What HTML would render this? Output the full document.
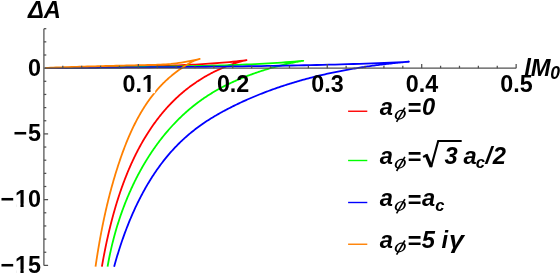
<!DOCTYPE html>
<html><head><meta charset="utf-8"><title>plot</title>
<style>
html,body{margin:0;padding:0;background:#fff;}
body{width:560px;height:273px;overflow:hidden;position:relative;font-family:"Liberation Sans",sans-serif;}
</style></head><body>
<svg width="560" height="273" viewBox="0 0 560 273" style="position:absolute;left:0;top:0;will-change:transform">
<g fill="none" stroke-width="1.8" stroke-linejoin="round" stroke-linecap="butt">
<path d="M45.50,68.12 L48.91,68.07 L52.31,68.01 L55.72,67.95 L59.13,67.89 L62.53,67.84 L65.94,67.78 L69.35,67.72 L72.75,67.67 L76.16,67.61 L79.57,67.55 L82.97,67.49 L86.38,67.44 L89.79,67.38 L93.19,67.32 L96.60,67.26 L100.01,67.20 L103.42,67.14 L106.82,67.08 L110.23,67.02 L113.64,66.96 L117.04,66.89 L120.45,66.83 L123.86,66.76 L127.26,66.70 L130.67,66.63 L134.08,66.56 L137.48,66.48 L140.89,66.41 L144.30,66.33 L147.70,66.25 L151.11,66.16 L154.52,66.07 L157.92,65.98 L161.33,65.88 L164.74,65.77 L168.14,65.67 L171.55,65.55 L174.96,65.43 L178.36,65.30 L181.77,65.16 L185.18,65.02 L188.58,64.87 L191.99,64.70 L195.40,64.53 L198.81,64.35 L202.21,64.15 L205.62,63.95 L209.03,63.72 L212.43,63.49 L215.84,63.24 L219.25,62.97 L222.65,62.69 L226.06,62.39 L229.47,62.07 L232.87,61.73 L236.28,61.37 L239.69,60.99 L243.09,60.58 L246.50,60.15 L246.50,60.15 L245.62,60.34 L244.75,60.53 L243.88,60.74 L243.01,60.95 L242.14,61.16 L241.28,61.39 L240.42,61.62 L239.56,61.85 L238.70,62.10 L237.84,62.35 L236.98,62.61 L236.13,62.87 L235.28,63.14 L234.42,63.42 L233.58,63.70 L232.73,63.99 L231.88,64.28 L231.03,64.58 L230.19,64.88 L229.35,65.19 L228.50,65.51 L227.66,65.83 L226.82,66.16 L225.98,66.49 L225.15,66.83 L224.31,67.17 L223.47,67.52 L222.64,67.87 L221.81,68.23 L220.98,68.59 L220.15,68.96 L219.32,69.33 L218.49,69.70 L217.67,70.09 L216.84,70.47 L216.02,70.87 L215.21,71.26 L214.39,71.66 L213.57,72.07 L212.76,72.48 L211.95,72.90 L211.14,73.32 L210.34,73.74 L209.54,74.17 L208.74,74.60 L207.94,75.04 L207.14,75.48 L206.35,75.93 L205.56,76.38 L204.77,76.84 L203.99,77.30 L203.21,77.76 L202.43,78.23 L201.66,78.70 L200.88,79.18 L200.12,79.66 L199.35,80.14 L198.59,80.63 L197.83,81.13 L197.08,81.62 L196.33,82.13 L195.58,82.63 L194.84,83.14 L194.10,83.65 L193.36,84.17 L192.63,84.69 L191.90,85.21 L191.18,85.74 L190.46,86.27 L189.74,86.81 L189.03,87.35 L188.32,87.89 L187.61,88.44 L186.91,88.99 L186.21,89.54 L185.51,90.10 L184.82,90.66 L184.14,91.23 L183.45,91.80 L182.77,92.37 L182.10,92.95 L181.42,93.52 L180.75,94.11 L180.09,94.69 L179.42,95.28 L178.77,95.88 L178.11,96.47 L177.46,97.07 L176.81,97.68 L176.17,98.28 L175.53,98.89 L174.89,99.51 L174.26,100.12 L173.62,100.74 L173.00,101.36 L172.37,101.99 L171.75,102.62 L171.14,103.25 L170.52,103.89 L169.91,104.53 L169.31,105.17 L168.70,105.81 L168.11,106.46 L167.51,107.11 L166.92,107.77 L166.33,108.42 L165.74,109.08 L165.16,109.75 L164.58,110.41 L164.00,111.08 L163.43,111.75 L162.86,112.43 L162.29,113.11 L161.73,113.79 L161.17,114.47 L160.61,115.16 L160.06,115.85 L159.51,116.54 L158.96,117.23 L158.42,117.93 L157.88,118.63 L157.34,119.33 L156.81,120.04 L156.27,120.75 L155.75,121.46 L155.22,122.17 L154.70,122.89 L154.18,123.60 L153.67,124.32 L153.15,125.05 L152.64,125.77 L152.14,126.50 L151.63,127.23 L151.13,127.97 L150.64,128.70 L150.14,129.44 L149.65,130.18 L149.16,130.92 L148.68,131.67 L148.20,132.41 L147.72,133.16 L147.24,133.92 L146.77,134.67 L146.30,135.43 L145.83,136.19 L145.36,136.95 L144.90,137.71 L144.44,138.47 L143.99,139.24 L143.53,140.01 L143.08,140.78 L142.64,141.56 L142.19,142.33 L141.75,143.11 L141.31,143.89 L140.88,144.67 L140.44,145.45 L140.01,146.24 L139.58,147.03 L139.16,147.82 L138.74,148.61 L138.32,149.40 L137.90,150.20 L137.49,150.99 L137.08,151.79 L136.67,152.59 L136.26,153.39 L135.86,154.20 L135.46,155.00 L135.06,155.81 L134.66,156.62 L134.27,157.43 L133.88,158.24 L133.49,159.06 L133.11,159.87 L132.72,160.69 L132.35,161.51 L131.97,162.33 L131.59,163.15 L131.22,163.97 L130.85,164.80 L130.48,165.62 L130.12,166.45 L129.76,167.28 L129.40,168.11 L129.04,168.94 L128.69,169.77 L128.33,170.61 L127.98,171.44 L127.64,172.28 L127.29,173.12 L126.95,173.96 L126.61,174.80 L126.27,175.64 L125.94,176.48 L125.60,177.32 L125.27,178.17 L124.94,179.02 L124.62,179.86 L124.29,180.71 L123.97,181.56 L123.65,182.41 L123.34,183.26 L123.02,184.12 L122.71,184.97 L122.40,185.82 L122.09,186.68 L121.79,187.54 L121.48,188.39 L121.18,189.25 L120.88,190.11 L120.58,190.97 L120.29,191.83 L120.00,192.69 L119.71,193.56 L119.42,194.42 L119.13,195.28 L118.85,196.15 L118.57,197.01 L118.29,197.88 L118.01,198.74 L117.73,199.61 L117.46,200.48 L117.19,201.35 L116.92,202.21 L116.65,203.08 L116.39,203.95 L116.12,204.82 L115.86,205.69 L115.60,206.57 L115.35,207.44 L115.09,208.31 L114.84,209.18 L114.59,210.06 L114.34,210.93 L114.09,211.80 L113.84,212.68 L113.60,213.55 L113.36,214.42 L113.12,215.30 L112.88,216.17 L112.64,217.05 L112.41,217.92 L112.18,218.80 L111.95,219.68 L111.72,220.55 L111.49,221.43 L111.26,222.30 L111.04,223.18 L110.82,224.06 L110.60,224.93 L110.38,225.81 L110.16,226.68 L109.95,227.56 L109.74,228.44 L109.52,229.31 L109.31,230.19 L109.11,231.06 L108.90,231.94 L108.69,232.82 L108.49,233.69 L108.29,234.57 L108.09,235.44 L107.89,236.32 L107.70,237.19 L107.50,238.06 L107.31,238.94 L107.12,239.81 L106.93,240.68 L106.74,241.56 L106.55,242.43 L106.36,243.30 L106.18,244.17 L106.00,245.04 L105.82,245.91 L105.64,246.78 L105.46,247.65 L105.28,248.52 L105.11,249.39 L104.93,250.26 L104.76,251.13 L104.59,251.99 L104.42,252.86 L104.25,253.73 L104.08,254.59 L103.92,255.46 L103.75,256.32 L103.59,257.18 L103.43,258.04 L103.27,258.90 L103.11,259.76 L102.95,260.62 L102.80,261.48 L102.64,262.34 L102.49,263.20 L102.34,264.05 L102.19,264.91 L102.04,265.76 L101.89,266.62" stroke="#ff0000"/>
<path d="M45.50,68.13 L49.87,68.08 L54.24,68.03 L58.61,67.97 L62.98,67.92 L67.35,67.87 L71.72,67.82 L76.09,67.77 L80.46,67.71 L84.83,67.66 L89.19,67.61 L93.56,67.56 L97.93,67.50 L102.30,67.45 L106.67,67.40 L111.04,67.34 L115.41,67.29 L119.78,67.23 L124.15,67.18 L128.52,67.12 L132.89,67.07 L137.26,67.01 L141.63,66.95 L146.00,66.89 L150.37,66.83 L154.74,66.76 L159.11,66.70 L163.48,66.63 L167.85,66.56 L172.22,66.49 L176.58,66.42 L180.95,66.34 L185.32,66.26 L189.69,66.17 L194.06,66.08 L198.43,65.98 L202.80,65.88 L207.17,65.78 L211.54,65.67 L215.91,65.55 L220.28,65.42 L224.65,65.29 L229.02,65.15 L233.39,65.00 L237.76,64.84 L242.13,64.67 L246.50,64.49 L250.87,64.30 L255.24,64.10 L259.61,63.88 L263.97,63.65 L268.34,63.41 L272.71,63.15 L277.08,62.87 L281.45,62.57 L285.82,62.26 L290.19,61.93 L294.56,61.57 L298.93,61.20 L303.30,60.80 L303.30,60.80 L302.29,60.95 L301.27,61.11 L300.27,61.28 L299.26,61.45 L298.25,61.62 L297.24,61.80 L296.24,61.99 L295.23,62.18 L294.23,62.37 L293.23,62.57 L292.23,62.77 L291.23,62.97 L290.23,63.18 L289.23,63.40 L288.24,63.62 L287.24,63.84 L286.24,64.07 L285.25,64.30 L284.26,64.53 L283.26,64.77 L282.27,65.02 L281.28,65.26 L280.29,65.51 L279.30,65.77 L278.31,66.02 L277.32,66.29 L276.33,66.55 L275.34,66.82 L274.35,67.09 L273.37,67.37 L272.38,67.65 L271.39,67.93 L270.40,68.21 L269.42,68.50 L268.43,68.79 L267.45,69.09 L266.46,69.39 L265.48,69.69 L264.49,69.99 L263.51,70.30 L262.53,70.62 L261.54,70.93 L260.56,71.25 L259.58,71.57 L258.60,71.90 L257.62,72.23 L256.64,72.56 L255.67,72.90 L254.69,73.23 L253.71,73.58 L252.74,73.93 L251.77,74.28 L250.80,74.63 L249.82,74.99 L248.86,75.35 L247.89,75.71 L246.92,76.08 L245.96,76.46 L244.99,76.83 L244.03,77.21 L243.07,77.60 L242.11,77.99 L241.16,78.38 L240.20,78.77 L239.25,79.17 L238.30,79.58 L237.35,79.99 L236.40,80.40 L235.46,80.81 L234.51,81.23 L233.57,81.66 L232.63,82.09 L231.70,82.52 L230.76,82.95 L229.83,83.39 L228.90,83.84 L227.97,84.29 L227.05,84.74 L226.13,85.20 L225.21,85.66 L224.29,86.13 L223.38,86.60 L222.47,87.07 L221.56,87.55 L220.65,88.03 L219.75,88.52 L218.85,89.01 L217.96,89.51 L217.06,90.01 L216.17,90.52 L215.29,91.03 L214.40,91.54 L213.52,92.06 L212.64,92.59 L211.77,93.12 L210.90,93.65 L210.03,94.19 L209.17,94.73 L208.31,95.28 L207.45,95.83 L206.60,96.39 L205.75,96.95 L204.91,97.51 L204.07,98.09 L203.23,98.66 L202.40,99.24 L201.57,99.83 L200.74,100.42 L199.92,101.01 L199.10,101.61 L198.28,102.21 L197.47,102.82 L196.66,103.43 L195.86,104.05 L195.06,104.67 L194.26,105.30 L193.47,105.93 L192.68,106.56 L191.89,107.20 L191.11,107.85 L190.33,108.49 L189.56,109.14 L188.79,109.80 L188.02,110.46 L187.26,111.12 L186.50,111.79 L185.74,112.47 L184.99,113.14 L184.24,113.82 L183.49,114.51 L182.75,115.20 L182.01,115.89 L181.28,116.59 L180.55,117.29 L179.82,117.99 L179.10,118.70 L178.38,119.41 L177.66,120.13 L176.95,120.85 L176.24,121.57 L175.54,122.30 L174.83,123.03 L174.14,123.77 L173.44,124.50 L172.75,125.25 L172.06,125.99 L171.38,126.74 L170.70,127.50 L170.02,128.25 L169.35,129.01 L168.68,129.78 L168.01,130.54 L167.35,131.31 L166.69,132.09 L166.04,132.86 L165.39,133.64 L164.74,134.43 L164.09,135.22 L163.45,136.01 L162.82,136.80 L162.18,137.60 L161.55,138.40 L160.93,139.20 L160.30,140.01 L159.68,140.82 L159.07,141.63 L158.46,142.44 L157.85,143.26 L157.24,144.09 L156.64,144.91 L156.04,145.74 L155.45,146.57 L154.86,147.40 L154.27,148.24 L153.68,149.08 L153.10,149.92 L152.53,150.77 L151.95,151.61 L151.38,152.46 L150.82,153.32 L150.25,154.17 L149.69,155.03 L149.14,155.89 L148.58,156.76 L148.04,157.62 L147.49,158.49 L146.95,159.36 L146.41,160.24 L145.87,161.11 L145.34,161.99 L144.81,162.87 L144.29,163.76 L143.77,164.64 L143.25,165.53 L142.74,166.42 L142.22,167.32 L141.72,168.21 L141.21,169.11 L140.71,170.01 L140.22,170.91 L139.72,171.82 L139.23,172.72 L138.74,173.63 L138.26,174.54 L137.78,175.45 L137.31,176.37 L136.83,177.29 L136.36,178.20 L135.90,179.13 L135.43,180.05 L134.97,180.97 L134.52,181.90 L134.07,182.83 L133.62,183.76 L133.17,184.69 L132.73,185.62 L132.29,186.56 L131.85,187.50 L131.42,188.43 L130.99,189.37 L130.57,190.32 L130.14,191.26 L129.73,192.21 L129.31,193.15 L128.90,194.10 L128.49,195.05 L128.09,196.00 L127.68,196.96 L127.28,197.91 L126.89,198.87 L126.50,199.82 L126.11,200.78 L125.72,201.74 L125.34,202.70 L124.96,203.66 L124.59,204.63 L124.22,205.59 L123.85,206.56 L123.48,207.53 L123.12,208.49 L122.76,209.46 L122.41,210.43 L122.06,211.41 L121.71,212.38 L121.36,213.35 L121.02,214.33 L120.68,215.30 L120.35,216.28 L120.02,217.26 L119.69,218.23 L119.36,219.21 L119.04,220.19 L118.72,221.17 L118.41,222.16 L118.09,223.14 L117.79,224.12 L117.48,225.10 L117.18,226.09 L116.88,227.07 L116.58,228.06 L116.29,229.05 L116.00,230.03 L115.72,231.02 L115.43,232.01 L115.15,233.00 L114.88,233.99 L114.60,234.97 L114.33,235.96 L114.07,236.95 L113.80,237.94 L113.54,238.93 L113.29,239.93 L113.03,240.92 L112.78,241.91 L112.54,242.90 L112.29,243.89 L112.05,244.88 L111.82,245.88 L111.58,246.87 L111.35,247.86 L111.12,248.85 L110.90,249.85 L110.68,250.84 L110.46,251.83 L110.24,252.82 L110.03,253.82 L109.82,254.81 L109.62,255.80 L109.42,256.79 L109.22,257.78 L109.02,258.78 L108.83,259.77 L108.64,260.76 L108.45,261.75 L108.27,262.74 L108.09,263.73 L107.91,264.72 L107.74,265.71 L107.57,266.70" stroke="#00ff00"/>
<path d="M45.50,68.14 L51.66,68.09 L57.82,68.04 L63.98,67.98 L70.14,67.93 L76.30,67.88 L82.46,67.83 L88.62,67.78 L94.77,67.73 L100.93,67.68 L107.09,67.63 L113.25,67.58 L119.41,67.53 L125.57,67.47 L131.73,67.42 L137.89,67.37 L144.05,67.32 L150.21,67.26 L156.37,67.21 L162.53,67.15 L168.69,67.10 L174.85,67.04 L181.01,66.98 L187.16,66.92 L193.32,66.86 L199.48,66.80 L205.64,66.73 L211.80,66.67 L217.96,66.60 L224.12,66.53 L230.28,66.45 L236.44,66.38 L242.60,66.30 L248.76,66.21 L254.92,66.13 L261.08,66.04 L267.24,65.94 L273.39,65.84 L279.55,65.74 L285.71,65.63 L291.87,65.51 L298.03,65.39 L304.19,65.27 L310.35,65.14 L316.51,65.00 L322.67,64.85 L328.83,64.69 L334.99,64.53 L341.15,64.36 L347.31,64.18 L353.47,63.99 L359.63,63.78 L365.78,63.57 L371.94,63.35 L378.10,63.12 L384.26,62.87 L390.42,62.61 L396.58,62.34 L402.74,62.05 L408.90,61.75 L408.90,61.75 L407.60,61.86 L406.31,61.97 L405.02,62.08 L403.72,62.20 L402.43,62.32 L401.13,62.44 L399.84,62.57 L398.54,62.69 L397.25,62.82 L395.95,62.95 L394.66,63.08 L393.36,63.22 L392.07,63.36 L390.77,63.50 L389.48,63.64 L388.18,63.79 L386.89,63.93 L385.59,64.08 L384.30,64.24 L383.01,64.39 L381.71,64.55 L380.42,64.71 L379.12,64.88 L377.83,65.04 L376.54,65.21 L375.25,65.38 L373.95,65.55 L372.66,65.73 L371.37,65.91 L370.08,66.09 L368.78,66.28 L367.49,66.46 L366.20,66.65 L364.91,66.84 L363.62,67.04 L362.33,67.24 L361.04,67.44 L359.75,67.64 L358.47,67.85 L357.18,68.06 L355.89,68.27 L354.60,68.49 L353.32,68.71 L352.03,68.93 L350.74,69.15 L349.46,69.38 L348.17,69.61 L346.89,69.84 L345.61,70.08 L344.32,70.31 L343.04,70.56 L341.76,70.80 L340.48,71.05 L339.20,71.30 L337.92,71.56 L336.64,71.81 L335.36,72.07 L334.08,72.34 L332.81,72.60 L331.53,72.87 L330.26,73.15 L328.98,73.42 L327.71,73.70 L326.44,73.99 L325.16,74.27 L323.89,74.56 L322.62,74.85 L321.35,75.15 L320.08,75.45 L318.82,75.75 L317.55,76.06 L316.28,76.37 L315.02,76.68 L313.75,76.99 L312.49,77.31 L311.23,77.64 L309.97,77.96 L308.71,78.29 L307.45,78.63 L306.19,78.96 L304.94,79.30 L303.68,79.65 L302.42,79.99 L301.17,80.35 L299.92,80.70 L298.67,81.06 L297.42,81.42 L296.17,81.79 L294.92,82.15 L293.67,82.53 L292.43,82.90 L291.18,83.28 L289.94,83.67 L288.70,84.05 L287.46,84.45 L286.22,84.84 L284.98,85.24 L283.75,85.64 L282.51,86.05 L281.28,86.46 L280.04,86.87 L278.81,87.29 L277.58,87.71 L276.36,88.14 L275.13,88.57 L273.90,89.00 L272.68,89.44 L271.46,89.88 L270.24,90.32 L269.02,90.77 L267.80,91.23 L266.58,91.68 L265.37,92.14 L264.15,92.61 L262.94,93.08 L261.73,93.55 L260.52,94.03 L259.32,94.51 L258.11,95.00 L256.91,95.49 L255.71,95.98 L254.51,96.48 L253.31,96.98 L252.11,97.49 L250.91,98.00 L249.72,98.51 L248.53,99.03 L247.34,99.55 L246.15,100.08 L244.96,100.61 L243.78,101.15 L242.60,101.69 L241.42,102.24 L240.24,102.78 L239.06,103.34 L237.89,103.90 L236.71,104.46 L235.54,105.03 L234.37,105.60 L233.20,106.17 L232.04,106.75 L230.87,107.34 L229.71,107.93 L228.56,108.52 L227.40,109.12 L226.25,109.73 L225.09,110.34 L223.95,110.95 L222.80,111.57 L221.66,112.20 L220.52,112.83 L219.39,113.46 L218.26,114.11 L217.13,114.75 L216.00,115.41 L214.88,116.07 L213.77,116.73 L212.65,117.41 L211.55,118.08 L210.44,118.77 L209.34,119.46 L208.25,120.16 L207.16,120.86 L206.07,121.57 L204.99,122.29 L203.92,123.02 L202.85,123.75 L201.78,124.49 L200.72,125.23 L199.67,125.99 L198.62,126.75 L197.58,127.52 L196.54,128.29 L195.51,129.08 L194.49,129.87 L193.47,130.67 L192.45,131.47 L191.45,132.28 L190.45,133.10 L189.45,133.93 L188.46,134.77 L187.48,135.61 L186.51,136.46 L185.54,137.31 L184.58,138.18 L183.62,139.05 L182.67,139.92 L181.73,140.81 L180.79,141.70 L179.86,142.60 L178.94,143.51 L178.03,144.42 L177.12,145.34 L176.22,146.26 L175.32,147.20 L174.43,148.14 L173.55,149.08 L172.68,150.04 L171.81,151.00 L170.95,151.96 L170.09,152.93 L169.25,153.91 L168.41,154.90 L167.57,155.89 L166.74,156.88 L165.92,157.89 L165.11,158.90 L164.30,159.91 L163.49,160.93 L162.70,161.96 L161.91,162.99 L161.13,164.02 L160.35,165.06 L159.58,166.11 L158.81,167.16 L158.06,168.22 L157.30,169.29 L156.56,170.35 L155.82,171.43 L155.09,172.50 L154.36,173.59 L153.64,174.67 L152.92,175.77 L152.21,176.86 L151.51,177.96 L150.81,179.07 L150.12,180.18 L149.44,181.29 L148.76,182.41 L148.08,183.53 L147.41,184.66 L146.75,185.79 L146.10,186.92 L145.44,188.06 L144.80,189.20 L144.16,190.35 L143.53,191.50 L142.90,192.65 L142.28,193.81 L141.66,194.97 L141.05,196.13 L140.44,197.30 L139.84,198.47 L139.25,199.64 L138.66,200.81 L138.07,201.99 L137.50,203.17 L136.92,204.36 L136.35,205.54 L135.79,206.73 L135.23,207.93 L134.68,209.12 L134.14,210.32 L133.59,211.52 L133.06,212.72 L132.53,213.92 L132.00,215.13 L131.48,216.33 L130.96,217.54 L130.45,218.75 L129.94,219.97 L129.44,221.18 L128.95,222.40 L128.45,223.62 L127.97,224.84 L127.49,226.06 L127.01,227.28 L126.54,228.51 L126.07,229.73 L125.61,230.96 L125.15,232.18 L124.69,233.41 L124.25,234.64 L123.80,235.87 L123.36,237.10 L122.93,238.33 L122.50,239.57 L122.07,240.80 L121.65,242.03 L121.23,243.26 L120.82,244.50 L120.41,245.73 L120.01,246.97 L119.61,248.20 L119.21,249.44 L118.82,250.67 L118.44,251.90 L118.06,253.14 L117.68,254.37 L117.30,255.60 L116.93,256.84 L116.57,258.07 L116.21,259.30 L115.85,260.53 L115.50,261.76 L115.15,262.99 L114.80,264.22 L114.46,265.45 L114.12,266.67" stroke="#0000ff"/>
<path d="M45.50,67.89 L48.11,67.79 L50.73,67.70 L53.34,67.60 L55.95,67.51 L58.57,67.41 L61.18,67.32 L63.79,67.24 L66.41,67.15 L69.02,67.06 L71.64,66.98 L74.25,66.90 L76.86,66.82 L79.48,66.74 L82.09,66.66 L84.70,66.58 L87.32,66.50 L89.93,66.43 L92.54,66.35 L95.16,66.28 L97.77,66.21 L100.38,66.13 L103.00,66.06 L105.61,66.00 L108.23,65.93 L110.84,65.86 L113.45,65.79 L116.07,65.73 L118.68,65.66 L121.29,65.60 L123.91,65.54 L126.52,65.47 L129.13,65.41 L131.75,65.35 L134.36,65.29 L136.97,65.24 L139.59,65.18 L142.20,65.13 L144.82,65.07 L147.43,65.01 L150.04,64.94 L152.66,64.87 L155.27,64.80 L157.88,64.72 L160.50,64.62 L163.11,64.48 L165.72,64.31 L168.34,64.12 L170.95,63.89 L173.56,63.60 L176.18,63.27 L178.79,62.91 L181.41,62.52 L184.02,62.10 L186.63,61.65 L189.25,61.16 L191.86,60.65 L194.47,60.10 L197.09,59.52 L199.70,58.90 L199.70,58.90 L198.92,59.13 L198.14,59.36 L197.36,59.59 L196.58,59.83 L195.80,60.08 L195.04,60.35 L194.29,60.65 L193.55,60.97 L192.84,61.32 L192.13,61.70 L191.43,62.08 L190.73,62.47 L190.04,62.87 L189.35,63.27 L188.65,63.68 L187.96,64.09 L187.27,64.51 L186.59,64.93 L185.90,65.35 L185.22,65.78 L184.53,66.22 L183.85,66.66 L183.17,67.10 L182.50,67.55 L181.82,68.00 L181.15,68.46 L180.48,68.92 L179.82,69.39 L179.15,69.86 L178.49,70.33 L177.83,70.81 L177.17,71.29 L176.52,71.78 L175.87,72.27 L175.22,72.76 L174.58,73.26 L173.94,73.77 L173.30,74.27 L172.66,74.79 L172.03,75.30 L171.40,75.82 L170.78,76.34 L170.16,76.87 L169.54,77.40 L168.93,77.93 L168.32,78.47 L167.72,79.01 L167.12,79.56 L166.52,80.11 L165.93,80.66 L165.34,81.22 L164.75,81.78 L164.17,82.34 L163.60,82.91 L163.03,83.48 L162.46,84.06 L161.89,84.63 L161.33,85.22 L160.78,85.80 L160.22,86.39 L159.68,86.98 L159.13,87.57 L158.59,88.17 L158.05,88.77 L157.52,89.38 L156.99,89.99 L156.46,90.60 L155.94,91.21 L155.42,91.83 L154.91,92.45 L154.40,93.07 L153.89,93.70 L153.39,94.33 L152.89,94.96 L152.39,95.59 L151.90,96.23 L151.41,96.87 L150.93,97.51 L150.44,98.16 L149.96,98.81 L149.49,99.46 L149.02,100.12 L148.55,100.77 L148.08,101.43 L147.62,102.10 L147.16,102.76 L146.71,103.43 L146.26,104.10 L145.81,104.77 L145.36,105.45 L144.92,106.12 L144.48,106.80 L144.05,107.48 L143.61,108.17 L143.19,108.86 L142.76,109.55 L142.34,110.24 L141.92,110.93 L141.50,111.63 L141.09,112.32 L140.68,113.02 L140.27,113.73 L139.86,114.43 L139.46,115.14 L139.06,115.85 L138.67,116.56 L138.27,117.27 L137.88,117.98 L137.50,118.70 L137.11,119.42 L136.73,120.14 L136.35,120.86 L135.97,121.58 L135.60,122.31 L135.23,123.03 L134.86,123.76 L134.50,124.49 L134.13,125.23 L133.77,125.96 L133.42,126.69 L133.06,127.43 L132.71,128.17 L132.36,128.91 L132.01,129.65 L131.67,130.39 L131.32,131.14 L130.98,131.88 L130.65,132.63 L130.31,133.38 L129.98,134.12 L129.65,134.88 L129.32,135.63 L128.99,136.38 L128.67,137.13 L128.35,137.89 L128.03,138.65 L127.71,139.40 L127.40,140.16 L127.09,140.92 L126.78,141.68 L126.47,142.44 L126.16,143.20 L125.86,143.97 L125.56,144.73 L125.26,145.50 L124.96,146.26 L124.67,147.03 L124.37,147.79 L124.08,148.56 L123.79,149.33 L123.50,150.10 L123.22,150.87 L122.93,151.64 L122.65,152.41 L122.37,153.18 L122.09,153.95 L121.82,154.72 L121.54,155.50 L121.27,156.27 L121.00,157.04 L120.73,157.82 L120.46,158.59 L120.19,159.37 L119.93,160.14 L119.67,160.92 L119.41,161.69 L119.15,162.47 L118.89,163.24 L118.63,164.02 L118.37,164.79 L118.12,165.57 L117.87,166.34 L117.62,167.12 L117.37,167.90 L117.12,168.67 L116.87,169.45 L116.63,170.23 L116.39,171.00 L116.14,171.78 L115.90,172.55 L115.67,173.33 L115.43,174.11 L115.19,174.88 L114.96,175.66 L114.72,176.44 L114.49,177.22 L114.26,177.99 L114.03,178.77 L113.80,179.55 L113.58,180.33 L113.35,181.10 L113.13,181.88 L112.90,182.66 L112.68,183.44 L112.46,184.22 L112.25,185.00 L112.03,185.78 L111.81,186.55 L111.60,187.33 L111.38,188.11 L111.17,188.89 L110.96,189.67 L110.75,190.45 L110.54,191.23 L110.34,192.01 L110.13,192.79 L109.93,193.57 L109.72,194.35 L109.52,195.14 L109.32,195.92 L109.12,196.70 L108.92,197.48 L108.73,198.26 L108.53,199.04 L108.34,199.83 L108.14,200.61 L107.95,201.39 L107.76,202.18 L107.57,202.96 L107.38,203.74 L107.19,204.53 L107.01,205.31 L106.82,206.10 L106.64,206.88 L106.45,207.67 L106.27,208.45 L106.09,209.24 L105.91,210.02 L105.73,210.81 L105.55,211.59 L105.38,212.38 L105.20,213.17 L105.03,213.95 L104.85,214.74 L104.68,215.53 L104.51,216.32 L104.34,217.11 L104.17,217.89 L104.00,218.68 L103.84,219.47 L103.67,220.26 L103.50,221.05 L103.34,221.84 L103.18,222.63 L103.01,223.42 L102.85,224.22 L102.69,225.01 L102.53,225.80 L102.37,226.59 L102.22,227.38 L102.06,228.18 L101.90,228.97 L101.75,229.76 L101.60,230.56 L101.44,231.35 L101.29,232.15 L101.14,232.94 L100.99,233.74 L100.84,234.53 L100.69,235.33 L100.54,236.13 L100.40,236.92 L100.25,237.72 L100.11,238.52 L99.96,239.32 L99.82,240.12 L99.68,240.92 L99.53,241.71 L99.39,242.51 L99.25,243.32 L99.11,244.12 L98.98,244.92 L98.84,245.72 L98.70,246.52 L98.56,247.32 L98.43,248.13 L98.29,248.93 L98.16,249.73 L98.03,250.54 L97.89,251.34 L97.76,252.15 L97.63,252.95 L97.50,253.76 L97.37,254.57 L97.24,255.37 L97.11,256.18 L96.99,256.99 L96.86,257.80 L96.73,258.61 L96.61,259.42 L96.48,260.23 L96.36,261.04 L96.23,261.85 L96.11,262.66 L95.99,263.47 L95.87,264.28 L95.75,265.10 L95.63,265.91 L95.51,266.72" stroke="#ff8000"/>
</g>
<g stroke="#505050" stroke-width="1.25" fill="none" shape-rendering="auto">
<line x1="43.9" y1="28.70" x2="43.9" y2="265.40"/>
<line x1="43.9" y1="68.15" x2="516.15" y2="68.15"/>
<line x1="62.79" y1="68.15" x2="62.79" y2="65.75"/>
<line x1="81.68" y1="68.15" x2="81.68" y2="65.75"/>
<line x1="100.57" y1="68.15" x2="100.57" y2="65.75"/>
<line x1="119.46" y1="68.15" x2="119.46" y2="65.75"/>
<line x1="138.35" y1="68.15" x2="138.35" y2="63.95"/>
<line x1="157.24" y1="68.15" x2="157.24" y2="65.75"/>
<line x1="176.13" y1="68.15" x2="176.13" y2="65.75"/>
<line x1="195.02" y1="68.15" x2="195.02" y2="65.75"/>
<line x1="213.91" y1="68.15" x2="213.91" y2="65.75"/>
<line x1="232.80" y1="68.15" x2="232.80" y2="63.95"/>
<line x1="251.69" y1="68.15" x2="251.69" y2="65.75"/>
<line x1="270.58" y1="68.15" x2="270.58" y2="65.75"/>
<line x1="289.47" y1="68.15" x2="289.47" y2="65.75"/>
<line x1="308.36" y1="68.15" x2="308.36" y2="65.75"/>
<line x1="327.25" y1="68.15" x2="327.25" y2="63.95"/>
<line x1="346.14" y1="68.15" x2="346.14" y2="65.75"/>
<line x1="365.03" y1="68.15" x2="365.03" y2="65.75"/>
<line x1="383.92" y1="68.15" x2="383.92" y2="65.75"/>
<line x1="402.81" y1="68.15" x2="402.81" y2="65.75"/>
<line x1="421.70" y1="68.15" x2="421.70" y2="63.95"/>
<line x1="440.59" y1="68.15" x2="440.59" y2="65.75"/>
<line x1="459.48" y1="68.15" x2="459.48" y2="65.75"/>
<line x1="478.37" y1="68.15" x2="478.37" y2="65.75"/>
<line x1="497.26" y1="68.15" x2="497.26" y2="65.75"/>
<line x1="516.15" y1="68.15" x2="516.15" y2="63.95"/>
<line x1="43.9" y1="265.40" x2="48.10" y2="265.40"/>
<line x1="43.9" y1="252.25" x2="46.30" y2="252.25"/>
<line x1="43.9" y1="239.10" x2="46.30" y2="239.10"/>
<line x1="43.9" y1="225.95" x2="46.30" y2="225.95"/>
<line x1="43.9" y1="212.80" x2="46.30" y2="212.80"/>
<line x1="43.9" y1="199.65" x2="48.10" y2="199.65"/>
<line x1="43.9" y1="186.50" x2="46.30" y2="186.50"/>
<line x1="43.9" y1="173.35" x2="46.30" y2="173.35"/>
<line x1="43.9" y1="160.20" x2="46.30" y2="160.20"/>
<line x1="43.9" y1="147.05" x2="46.30" y2="147.05"/>
<line x1="43.9" y1="133.90" x2="48.10" y2="133.90"/>
<line x1="43.9" y1="120.75" x2="46.30" y2="120.75"/>
<line x1="43.9" y1="107.60" x2="46.30" y2="107.60"/>
<line x1="43.9" y1="94.45" x2="46.30" y2="94.45"/>
<line x1="43.9" y1="81.30" x2="46.30" y2="81.30"/>
<line x1="43.9" y1="55.00" x2="46.30" y2="55.00"/>
<line x1="43.9" y1="41.85" x2="46.30" y2="41.85"/>
<line x1="43.9" y1="28.70" x2="46.30" y2="28.70"/>
</g>
<g stroke-width="1.4" fill="none">
<line x1="348.1" y1="111.25" x2="367.3" y2="111.25" stroke="#ff0000"/>
<line x1="348.1" y1="160.5" x2="367.3" y2="160.5" stroke="#00ff00"/>
<line x1="348.1" y1="202.5" x2="367.3" y2="202.5" stroke="#0000ff"/>
<line x1="348.1" y1="244.25" x2="367.3" y2="244.25" stroke="#ff8000"/>
</g>
<g font-family="'Liberation Sans', sans-serif" font-weight="bold" font-size="23.7" fill="#000">
<text x="138.65" y="92.1" text-anchor="middle" font-size="23.3">0.1</text>
<text x="233.10" y="92.1" text-anchor="middle" font-size="23.3">0.2</text>
<text x="327.55" y="92.1" text-anchor="middle" font-size="23.3">0.3</text>
<text x="422.00" y="92.1" text-anchor="middle" font-size="23.3">0.4</text>
<text x="516.45" y="92.1" text-anchor="middle" font-size="23.3">0.5</text>
<text x="41.0" y="75.55" text-anchor="end" font-size="23.4">0</text>
<text x="41.0" y="141.30" text-anchor="end" font-size="23.4">5</text>
<text x="27.09" y="141.30" text-anchor="end" font-size="23.4">−</text>
<text x="41.0" y="207.05" text-anchor="end" font-size="23.4">10</text>
<text x="14.07" y="207.05" text-anchor="end" font-size="23.4">−</text>
<text x="41.0" y="272.80" text-anchor="end" font-size="23.4">15</text>
<text x="14.07" y="272.80" text-anchor="end" font-size="23.4">−</text>
<rect x="143.02" y="88.80" width="4.30" height="4.37" fill="#fff"/><rect x="150.52" y="88.80" width="4.62" height="4.37" fill="#fff"/>
<rect x="16.11" y="203.74" width="4.32" height="4.38" fill="#fff"/><rect x="23.64" y="203.74" width="4.64" height="4.38" fill="#fff"/>
<rect x="16.11" y="269.49" width="4.32" height="4.38" fill="#fff"/><rect x="23.64" y="269.49" width="4.64" height="4.38" fill="#fff"/>
<text x="44.4" y="17.9" text-anchor="middle" font-style="italic">ΔA</text>
<text x="524.2" y="75.5" font-style="italic">lM<tspan font-size="17.6" dy="3.5" dx="-0.4">0</tspan></text>
<text x="379.8" y="114.7" font-style="italic">a</text>
<g transform="translate(400.3,114.7)"><path transform="skewX(-18)" fill="#000" fill-rule="evenodd" d="M-5.35,0 A5.35,4.95 0 1 0 5.35,0 A5.35,4.95 0 1 0 -5.35,0 Z M-3.45,0 A3.45,3.8 0 1 0 3.45,0 A3.45,3.8 0 1 0 -3.45,0 Z"/><line x1="4.6" y1="-7.0" x2="-3.7" y2="7.2" stroke="#000" stroke-width="1.6"/></g>
<text x="407.2" y="116.3" font-style="italic">=</text>
<text x="379.8" y="163.8" font-style="italic">a</text>
<g transform="translate(400.3,163.8)"><path transform="skewX(-18)" fill="#000" fill-rule="evenodd" d="M-5.35,0 A5.35,4.95 0 1 0 5.35,0 A5.35,4.95 0 1 0 -5.35,0 Z M-3.45,0 A3.45,3.8 0 1 0 3.45,0 A3.45,3.8 0 1 0 -3.45,0 Z"/><line x1="4.6" y1="-7.0" x2="-3.7" y2="7.2" stroke="#000" stroke-width="1.6"/></g>
<text x="407.2" y="165.4" font-style="italic">=</text>
<text x="379.8" y="206.1" font-style="italic">a</text>
<g transform="translate(400.3,206.1)"><path transform="skewX(-18)" fill="#000" fill-rule="evenodd" d="M-5.35,0 A5.35,4.95 0 1 0 5.35,0 A5.35,4.95 0 1 0 -5.35,0 Z M-3.45,0 A3.45,3.8 0 1 0 3.45,0 A3.45,3.8 0 1 0 -3.45,0 Z"/><line x1="4.6" y1="-7.0" x2="-3.7" y2="7.2" stroke="#000" stroke-width="1.6"/></g>
<text x="407.2" y="207.7" font-style="italic">=</text>
<text x="379.8" y="247.5" font-style="italic">a</text>
<g transform="translate(400.3,247.5)"><path transform="skewX(-18)" fill="#000" fill-rule="evenodd" d="M-5.35,0 A5.35,4.95 0 1 0 5.35,0 A5.35,4.95 0 1 0 -5.35,0 Z M-3.45,0 A3.45,3.8 0 1 0 3.45,0 A3.45,3.8 0 1 0 -3.45,0 Z"/><line x1="4.6" y1="-7.0" x2="-3.7" y2="7.2" stroke="#000" stroke-width="1.6"/></g>
<text x="407.2" y="249.1" font-style="italic">=</text>
<text x="422.0" y="114.7" font-style="italic">0</text>
<g fill="none" stroke="#000" stroke-linecap="butt"><path d="M423.1,157.0 L427.0,155.0" stroke-width="2.0"/><path d="M426.0,154.4 L431.2,166.9" stroke-width="3.3"/><path d="M431.0,167.2 L438.2,141.0 L461.7,141.0" stroke-width="2.1" stroke-linejoin="miter"/></g>
<text x="444.6" y="163.8" font-style="italic">3</text>
<text x="463.4" y="163.8" font-style="italic">a<tspan font-size="16.5" dy="4.6" dx="-0.8">c</tspan><tspan dy="-4.6" dx="0.4">/</tspan><tspan dx="0.9">2</tspan></text>
<text x="421.9" y="206.1" font-style="italic">a<tspan font-size="16.5" dy="4.6" dx="0.1">c</tspan></text>
<text x="421.8" y="247.5" font-style="italic">5</text>
<text x="441.4" y="247.5" font-style="italic">i</text>
<text transform="translate(449.0,247.8) scale(1.14,1)" font-style="italic">γ</text>
</g>
</svg>
</body></html>
